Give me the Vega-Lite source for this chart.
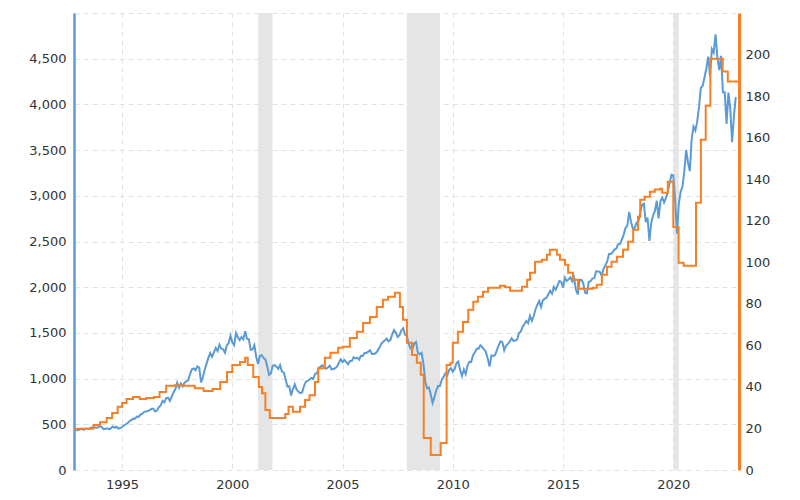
{
  "$schema": "https://vega.github.io/schema/vega-lite/v6.json",
  "width": 665,
  "height": 457,
  "autosize": {"type": "none"},
  "padding": {"left": 74, "top": 13, "right": 61, "bottom": 30},
  "background": "white",
  "config": {
    "view": {"stroke": null},
    "font": "DejaVu Sans",
    "axis": {"labelFont": "DejaVu Sans", "labelFontSize": 13, "labelColor": "#333333", "ticks": false, "gridColor": "#e2e2e2", "gridDash": [5, 4], "gridWidth": 1, "title": null}
  },
  "datasets": {
    "rec": [
      {"s": 2001.17, "e": 2001.82},
      {"s": 2007.91, "e": 2009.42},
      {"s": 2020.02, "e": 2020.25}
    ],
    "sp": [
      {"t":1992.917,"v":435.7},
      {"t":1993,"v":438.8},{"t":1993.083,"v":443.4},{"t":1993.167,"v":451.7},{"t":1993.25,"v":440.2},{"t":1993.333,"v":450.2},{"t":1993.417,"v":450.5},{"t":1993.5,"v":448.1},{"t":1993.583,"v":463.6},{"t":1993.667,"v":458.9},{"t":1993.75,"v":467.8},{"t":1993.833,"v":461.8},{"t":1993.917,"v":466.5},
      {"t":1994,"v":481.6},{"t":1994.083,"v":467.1},{"t":1994.167,"v":445.8},{"t":1994.25,"v":450.9},{"t":1994.333,"v":456.5},{"t":1994.417,"v":444.3},{"t":1994.5,"v":458.3},{"t":1994.583,"v":475.5},{"t":1994.667,"v":462.7},{"t":1994.75,"v":472.4},{"t":1994.833,"v":453.7},{"t":1994.917,"v":459.3},
      {"t":1995,"v":470.4},{"t":1995.083,"v":487.4},{"t":1995.167,"v":500.7},{"t":1995.25,"v":514.7},{"t":1995.333,"v":533.4},{"t":1995.417,"v":544.8},{"t":1995.5,"v":562.1},{"t":1995.583,"v":561.9},{"t":1995.667,"v":584.4},{"t":1995.75,"v":581.5},{"t":1995.833,"v":605.4},{"t":1995.917,"v":615.9},
      {"t":1996,"v":636.0},{"t":1996.083,"v":640.4},{"t":1996.167,"v":645.5},{"t":1996.25,"v":654.2},{"t":1996.333,"v":669.1},{"t":1996.417,"v":670.6},{"t":1996.5,"v":639.9},{"t":1996.583,"v":652.0},{"t":1996.667,"v":687.3},{"t":1996.75,"v":705.3},{"t":1996.833,"v":757.0},{"t":1996.917,"v":740.7},
      {"t":1997,"v":786.2},{"t":1997.083,"v":790.8},{"t":1997.167,"v":757.1},{"t":1997.25,"v":801.3},{"t":1997.333,"v":848.3},{"t":1997.417,"v":885.1},{"t":1997.5,"v":954.3},{"t":1997.583,"v":899.5},{"t":1997.667,"v":947.3},{"t":1997.75,"v":914.6},{"t":1997.833,"v":955.4},{"t":1997.917,"v":970.4},
      {"t":1998,"v":980.3},{"t":1998.083,"v":1049.3},{"t":1998.167,"v":1101.8},{"t":1998.25,"v":1111.8},{"t":1998.333,"v":1090.8},{"t":1998.417,"v":1133.8},{"t":1998.5,"v":1120.7},{"t":1998.583,"v":957.3},{"t":1998.667,"v":1017.0},{"t":1998.75,"v":1098.7},{"t":1998.833,"v":1163.6},{"t":1998.917,"v":1229.2},
      {"t":1999,"v":1279.6},{"t":1999.083,"v":1238.3},{"t":1999.167,"v":1286.4},{"t":1999.25,"v":1335.2},{"t":1999.333,"v":1301.8},{"t":1999.417,"v":1372.7},{"t":1999.5,"v":1328.7},{"t":1999.583,"v":1320.4},{"t":1999.667,"v":1282.7},{"t":1999.75,"v":1362.9},{"t":1999.833,"v":1389.0},{"t":1999.917,"v":1469.3},
      {"t":2000,"v":1394.5},{"t":2000.083,"v":1366.4},{"t":2000.167,"v":1498.6},{"t":2000.25,"v":1452.4},{"t":2000.333,"v":1420.6},{"t":2000.417,"v":1454.6},{"t":2000.5,"v":1430.8},{"t":2000.583,"v":1517.7},{"t":2000.667,"v":1436.5},{"t":2000.75,"v":1429.4},{"t":2000.833,"v":1315.2},{"t":2000.917,"v":1320.3},
      {"t":2001,"v":1366.0},{"t":2001.083,"v":1239.9},{"t":2001.167,"v":1160.3},{"t":2001.25,"v":1249.5},{"t":2001.333,"v":1255.8},{"t":2001.417,"v":1224.4},{"t":2001.5,"v":1211.2},{"t":2001.583,"v":1133.6},{"t":2001.667,"v":1040.9},{"t":2001.75,"v":1059.8},{"t":2001.833,"v":1139.5},{"t":2001.917,"v":1148.1},
      {"t":2002,"v":1130.2},{"t":2002.083,"v":1106.7},{"t":2002.167,"v":1147.4},{"t":2002.25,"v":1076.9},{"t":2002.333,"v":1067.1},{"t":2002.417,"v":989.8},{"t":2002.5,"v":911.6},{"t":2002.583,"v":916.1},{"t":2002.667,"v":815.3},{"t":2002.75,"v":885.8},{"t":2002.833,"v":936.3},{"t":2002.917,"v":879.8},
      {"t":2003,"v":855.7},{"t":2003.083,"v":841.2},{"t":2003.167,"v":848.2},{"t":2003.25,"v":916.9},{"t":2003.333,"v":963.6},{"t":2003.417,"v":974.5},{"t":2003.5,"v":990.3},{"t":2003.583,"v":1008.0},{"t":2003.667,"v":996.0},{"t":2003.75,"v":1050.7},{"t":2003.833,"v":1058.2},{"t":2003.917,"v":1111.9},
      {"t":2004,"v":1131.1},{"t":2004.083,"v":1144.9},{"t":2004.167,"v":1126.2},{"t":2004.25,"v":1107.3},{"t":2004.333,"v":1120.7},{"t":2004.417,"v":1140.8},{"t":2004.5,"v":1101.7},{"t":2004.583,"v":1104.2},{"t":2004.667,"v":1114.6},{"t":2004.75,"v":1130.2},{"t":2004.833,"v":1173.8},{"t":2004.917,"v":1211.9},
      {"t":2005,"v":1181.3},{"t":2005.083,"v":1203.6},{"t":2005.167,"v":1180.6},{"t":2005.25,"v":1156.9},{"t":2005.333,"v":1191.5},{"t":2005.417,"v":1191.3},{"t":2005.5,"v":1234.2},{"t":2005.583,"v":1220.3},{"t":2005.667,"v":1228.8},{"t":2005.75,"v":1207.0},{"t":2005.833,"v":1249.5},{"t":2005.917,"v":1248.3},
      {"t":2006,"v":1280.1},{"t":2006.083,"v":1280.7},{"t":2006.167,"v":1294.8},{"t":2006.25,"v":1310.6},{"t":2006.333,"v":1270.1},{"t":2006.417,"v":1270.2},{"t":2006.5,"v":1276.7},{"t":2006.583,"v":1303.8},{"t":2006.667,"v":1335.9},{"t":2006.75,"v":1377.9},{"t":2006.833,"v":1400.6},{"t":2006.917,"v":1418.3},
      {"t":2007,"v":1438.2},{"t":2007.083,"v":1406.8},{"t":2007.167,"v":1420.9},{"t":2007.25,"v":1482.4},{"t":2007.333,"v":1530.6},{"t":2007.417,"v":1503.4},{"t":2007.5,"v":1455.3},{"t":2007.583,"v":1474.0},{"t":2007.667,"v":1526.8},{"t":2007.75,"v":1549.4},{"t":2007.833,"v":1481.1},{"t":2007.917,"v":1468.4},
      {"t":2008,"v":1378.6},{"t":2008.083,"v":1330.6},{"t":2008.167,"v":1322.7},{"t":2008.25,"v":1385.6},{"t":2008.333,"v":1400.4},{"t":2008.417,"v":1280.0},{"t":2008.5,"v":1267.4},{"t":2008.583,"v":1282.8},{"t":2008.667,"v":1166.4},{"t":2008.75,"v":968.8},{"t":2008.833,"v":896.2},{"t":2008.917,"v":903.3},
      {"t":2009,"v":825.9},{"t":2009.083,"v":735.1},{"t":2009.167,"v":797.9},{"t":2009.25,"v":872.8},{"t":2009.333,"v":919.1},{"t":2009.417,"v":919.3},{"t":2009.5,"v":987.5},{"t":2009.583,"v":1020.6},{"t":2009.667,"v":1057.1},{"t":2009.75,"v":1036.2},{"t":2009.833,"v":1095.6},{"t":2009.917,"v":1115.1},
      {"t":2010,"v":1073.9},{"t":2010.083,"v":1104.5},{"t":2010.167,"v":1169.4},{"t":2010.25,"v":1186.7},{"t":2010.333,"v":1089.4},{"t":2010.417,"v":1030.7},{"t":2010.5,"v":1101.6},{"t":2010.583,"v":1049.3},{"t":2010.667,"v":1141.2},{"t":2010.75,"v":1183.3},{"t":2010.833,"v":1180.6},{"t":2010.917,"v":1257.6},
      {"t":2011,"v":1286.1},{"t":2011.083,"v":1327.2},{"t":2011.167,"v":1325.8},{"t":2011.25,"v":1363.6},{"t":2011.333,"v":1345.2},{"t":2011.417,"v":1320.6},{"t":2011.5,"v":1292.3},{"t":2011.583,"v":1218.9},{"t":2011.667,"v":1131.4},{"t":2011.75,"v":1253.3},{"t":2011.833,"v":1247.0},{"t":2011.917,"v":1257.6},
      {"t":2012,"v":1312.4},{"t":2012.083,"v":1365.7},{"t":2012.167,"v":1408.5},{"t":2012.25,"v":1397.9},{"t":2012.333,"v":1310.3},{"t":2012.417,"v":1362.2},{"t":2012.5,"v":1379.3},{"t":2012.583,"v":1406.6},{"t":2012.667,"v":1440.7},{"t":2012.75,"v":1412.2},{"t":2012.833,"v":1416.2},{"t":2012.917,"v":1426.2},
      {"t":2013,"v":1498.1},{"t":2013.083,"v":1514.7},{"t":2013.167,"v":1569.2},{"t":2013.25,"v":1597.6},{"t":2013.333,"v":1630.7},{"t":2013.417,"v":1606.3},{"t":2013.5,"v":1685.7},{"t":2013.583,"v":1633.0},{"t":2013.667,"v":1681.6},{"t":2013.75,"v":1756.5},{"t":2013.833,"v":1805.8},{"t":2013.917,"v":1848.4},
      {"t":2014,"v":1782.6},{"t":2014.083,"v":1859.5},{"t":2014.167,"v":1872.3},{"t":2014.25,"v":1884.0},{"t":2014.333,"v":1923.6},{"t":2014.417,"v":1960.2},{"t":2014.5,"v":1930.7},{"t":2014.583,"v":2003.4},{"t":2014.667,"v":1972.3},{"t":2014.75,"v":2018.1},{"t":2014.833,"v":2067.6},{"t":2014.917,"v":2058.9},
      {"t":2015,"v":1995.0},{"t":2015.083,"v":2104.5},{"t":2015.167,"v":2067.9},{"t":2015.25,"v":2085.5},{"t":2015.333,"v":2107.4},{"t":2015.417,"v":2063.1},{"t":2015.5,"v":2103.8},{"t":2015.583,"v":1972.2},{"t":2015.667,"v":1920.0},{"t":2015.75,"v":2079.4},{"t":2015.833,"v":2080.4},{"t":2015.917,"v":2043.9},
      {"t":2016,"v":1940.2},{"t":2016.083,"v":1932.2},{"t":2016.167,"v":2059.7},{"t":2016.25,"v":2065.3},{"t":2016.333,"v":2096.9},{"t":2016.417,"v":2098.9},{"t":2016.5,"v":2173.6},{"t":2016.583,"v":2171.0},{"t":2016.667,"v":2168.3},{"t":2016.75,"v":2126.2},{"t":2016.833,"v":2199.0},{"t":2016.917,"v":2238.8},
      {"t":2017,"v":2278.9},{"t":2017.083,"v":2363.6},{"t":2017.167,"v":2362.7},{"t":2017.25,"v":2384.2},{"t":2017.333,"v":2411.8},{"t":2017.417,"v":2423.4},{"t":2017.5,"v":2470.3},{"t":2017.583,"v":2471.7},{"t":2017.667,"v":2519.4},{"t":2017.75,"v":2575.3},{"t":2017.833,"v":2647.6},{"t":2017.917,"v":2673.6},
      {"t":2018,"v":2823.8},{"t":2018.083,"v":2713.8},{"t":2018.167,"v":2640.9},{"t":2018.25,"v":2648.1},{"t":2018.333,"v":2705.3},{"t":2018.417,"v":2718.4},{"t":2018.5,"v":2816.3},{"t":2018.583,"v":2901.5},{"t":2018.667,"v":2914.0},{"t":2018.75,"v":2711.7},{"t":2018.833,"v":2760.2},{"t":2018.917,"v":2506.9},
      {"t":2019,"v":2704.1},{"t":2019.083,"v":2784.5},{"t":2019.167,"v":2834.4},{"t":2019.25,"v":2945.8},{"t":2019.333,"v":2752.1},{"t":2019.417,"v":2941.8},{"t":2019.5,"v":2980.4},{"t":2019.583,"v":2926.5},{"t":2019.667,"v":2976.7},{"t":2019.75,"v":3037.6},{"t":2019.833,"v":3141.0},{"t":2019.917,"v":3230.8},
      {"t":2020,"v":3225.5},{"t":2020.083,"v":2954.2},{"t":2020.167,"v":2584.6},{"t":2020.25,"v":2912.4},{"t":2020.333,"v":3044.3},{"t":2020.417,"v":3100.3},{"t":2020.5,"v":3271.1},{"t":2020.583,"v":3500.3},{"t":2020.667,"v":3363.0},{"t":2020.75,"v":3270.0},{"t":2020.833,"v":3621.6},{"t":2020.917,"v":3756.1},
      {"t":2021,"v":3714.2},{"t":2021.083,"v":3811.2},{"t":2021.167,"v":3972.9},{"t":2021.25,"v":4181.2},{"t":2021.333,"v":4204.1},{"t":2021.417,"v":4297.5},{"t":2021.5,"v":4395.3},{"t":2021.583,"v":4522.7},{"t":2021.667,"v":4307.5},{"t":2021.75,"v":4605.4},{"t":2021.833,"v":4567.0},{"t":2021.917,"v":4766.2},
      {"t":2022,"v":4515.6},{"t":2022.083,"v":4373.9},{"t":2022.167,"v":4530.4},{"t":2022.25,"v":4131.9},{"t":2022.333,"v":4132.2},{"t":2022.417,"v":3785.4},{"t":2022.5,"v":4130.3},{"t":2022.583,"v":3955.0},{"t":2022.667,"v":3585.6},{"t":2022.75,"v":3872.0},{"t":2022.833,"v":4080.1}
    ],
    "eps": [
      {"t":1992.83,"e":19.8},{"t":1993.3,"e":19.8},{"t":1993.7,"e":21.7},{"t":1994.0,"e":23.0},{"t":1994.3,"e":25.0},{"t":1994.55,"e":27.5},{"t":1994.8,"e":30.4},{"t":1995.0,"e":32.3},{"t":1995.2,"e":34.2},{"t":1995.5,"e":35.2},{"t":1995.8,"e":34.2},{"t":1996.1,"e":34.7},{"t":1996.45,"e":35.2},{"t":1996.7,"e":37.6},{"t":1997.0,"e":40.5},{"t":1997.4,"e":40.8},{"t":1997.8,"e":40.5},{"t":1998.3,"e":39.3},{"t":1998.7,"e":38.0},{"t":1999.1,"e":39.0},{"t":1999.45,"e":42.4},{"t":1999.76,"e":47.2},{"t":2000.0,"e":50.6},{"t":2000.35,"e":52.0},{"t":2000.58,"e":54.0},{"t":2000.7,"e":50.6},{"t":2000.95,"e":44.8},{"t":2001.2,"e":40.0},{"t":2001.35,"e":37.0},{"t":2001.5,"e":28.9},{"t":2001.7,"e":25.0},{"t":2002.15,"e":25.0},{"t":2002.4,"e":27.0},{"t":2002.55,"e":30.4},{"t":2002.75,"e":28.0},{"t":2003.07,"e":30.4},{"t":2003.3,"e":33.7},{"t":2003.5,"e":36.0},{"t":2003.75,"e":42.4},{"t":2003.9,"e":49.0},{"t":2004.2,"e":54.0},{"t":2004.45,"e":56.4},{"t":2004.8,"e":58.8},{"t":2005.0,"e":59.3},{"t":2005.33,"e":63.6},{"t":2005.65,"e":66.5},{"t":2005.93,"e":70.8},{"t":2006.24,"e":73.7},{"t":2006.55,"e":78.5},{"t":2006.83,"e":81.9},{"t":2007.06,"e":83.4},{"t":2007.38,"e":85.3},{"t":2007.5,"e":85.3},{"t":2007.6,"e":78.5},{"t":2007.74,"e":72.3},{"t":2007.92,"e":61.2},{"t":2008.15,"e":55.4},{"t":2008.37,"e":51.6},{"t":2008.55,"e":45.8},{"t":2008.68,"e":15.4},{"t":2008.95,"e":15.4},{"t":2009.0,"e":7.2},{"t":2009.4,"e":7.2},{"t":2009.45,"e":13.0},{"t":2009.65,"e":13.0},{"t":2009.72,"e":50.6},{"t":2009.9,"e":51.6},{"t":2010.0,"e":61.2},{"t":2010.19,"e":61.2},{"t":2010.23,"e":66.5},{"t":2010.46,"e":71.3},{"t":2010.7,"e":77.1},{"t":2010.93,"e":81.0},{"t":2011.14,"e":83.4},{"t":2011.37,"e":85.8},{"t":2011.6,"e":87.7},{"t":2012.0,"e":87.7},{"t":2012.14,"e":88.7},{"t":2012.37,"e":88.0},{"t":2012.6,"e":86.3},{"t":2012.95,"e":86.3},{"t":2013.14,"e":88.2},{"t":2013.37,"e":91.6},{"t":2013.5,"e":94.9},{"t":2013.73,"e":100.2},{"t":2014.04,"e":101.2},{"t":2014.27,"e":103.6},{"t":2014.4,"e":106.0},{"t":2014.63,"e":106.0},{"t":2014.72,"e":103.6},{"t":2014.86,"e":101.2},{"t":2015.09,"e":98.8},{"t":2015.23,"e":94.9},{"t":2015.45,"e":91.6},{"t":2015.68,"e":87.2},{"t":2016.08,"e":87.2},{"t":2016.35,"e":87.7},{"t":2016.53,"e":89.2},{"t":2016.76,"e":94.0},{"t":2016.99,"e":97.8},{"t":2017.2,"e":100.2},{"t":2017.44,"e":102.7},{"t":2017.72,"e":106.0},{"t":2017.95,"e":109.9},{"t":2018.18,"e":115.7},{"t":2018.4,"e":121.9},{"t":2018.5,"e":130.1},{"t":2018.7,"e":131.6},{"t":2018.94,"e":134.0},{"t":2019.16,"e":135.0},{"t":2019.4,"e":135.4},{"t":2019.5,"e":133.5},{"t":2019.7,"e":133.5},{"t":2019.75,"e":138.8},{"t":2019.92,"e":138.8},{"t":2020.0,"e":117.0},{"t":2020.17,"e":117.0},{"t":2020.24,"e":99.8},{"t":2020.47,"e":98.3},{"t":2020.92,"e":98.3},{"t":2021.03,"e":128.7},{"t":2021.2,"e":128.7},{"t":2021.25,"e":159.0},{"t":2021.43,"e":159.0},{"t":2021.47,"e":175.4},{"t":2021.6,"e":175.4},{"t":2021.68,"e":198.0},{"t":2022.2,"e":198.0},{"t":2022.24,"e":191.8},{"t":2022.4,"e":191.8},{"t":2022.47,"e":187.0},{"t":2022.98,"e":187.0}
    ]
  },
  "layer": [
    {
      "data": {"name": "rec"},
      "mark": {"type": "rect", "color": "#e5e5e5"},
      "encoding": {
        "x": {"field": "s", "type": "quantitative", "scale": {"domain": [1992.82, 2022.98], "nice": false, "zero": false},
          "axis": {"values": [1995, 2000, 2005, 2010, 2015, 2020], "format": "d", "domain": false, "grid": true, "labelPadding": 8}},
        "x2": {"field": "e"}
      }
    },
    {
      "data": {"name": "sp"},
      "mark": {"type": "line", "color": "#5b9bd5", "strokeWidth": 2, "clip": true},
      "encoding": {
        "x": {"field": "t", "type": "quantitative"},
        "y": {"field": "v", "type": "quantitative", "scale": {"domain": [0, 5000], "nice": false},
          "axis": {"orient": "left", "values": [0, 500, 1000, 1500, 2000, 2500, 3000, 3500, 4000, 4500, 5000], "format": ",d", "labelExpr": "datum.value >= 5000 ? '' : datum.label", "grid": true, "domain": true, "domainColor": "#5b9bd5", "domainWidth": 2.5, "labelPadding": 8}}
      }
    },
    {
      "data": {"name": "eps"},
      "mark": {"type": "line", "color": "#f58025", "strokeWidth": 2, "clip": true, "interpolate": "step-after"},
      "encoding": {
        "x": {"field": "t", "type": "quantitative"},
        "y": {"field": "e", "type": "quantitative", "scale": {"domain": [0, 220], "nice": false},
          "axis": {"orient": "right", "values": [0, 20, 40, 60, 80, 100, 120, 140, 160, 180, 200], "grid": false, "domain": true, "domainColor": "#f58025", "domainWidth": 3, "labelPadding": 6}}
      }
    }
  ],
  "resolve": {"scale": {"y": "independent"}}
}
